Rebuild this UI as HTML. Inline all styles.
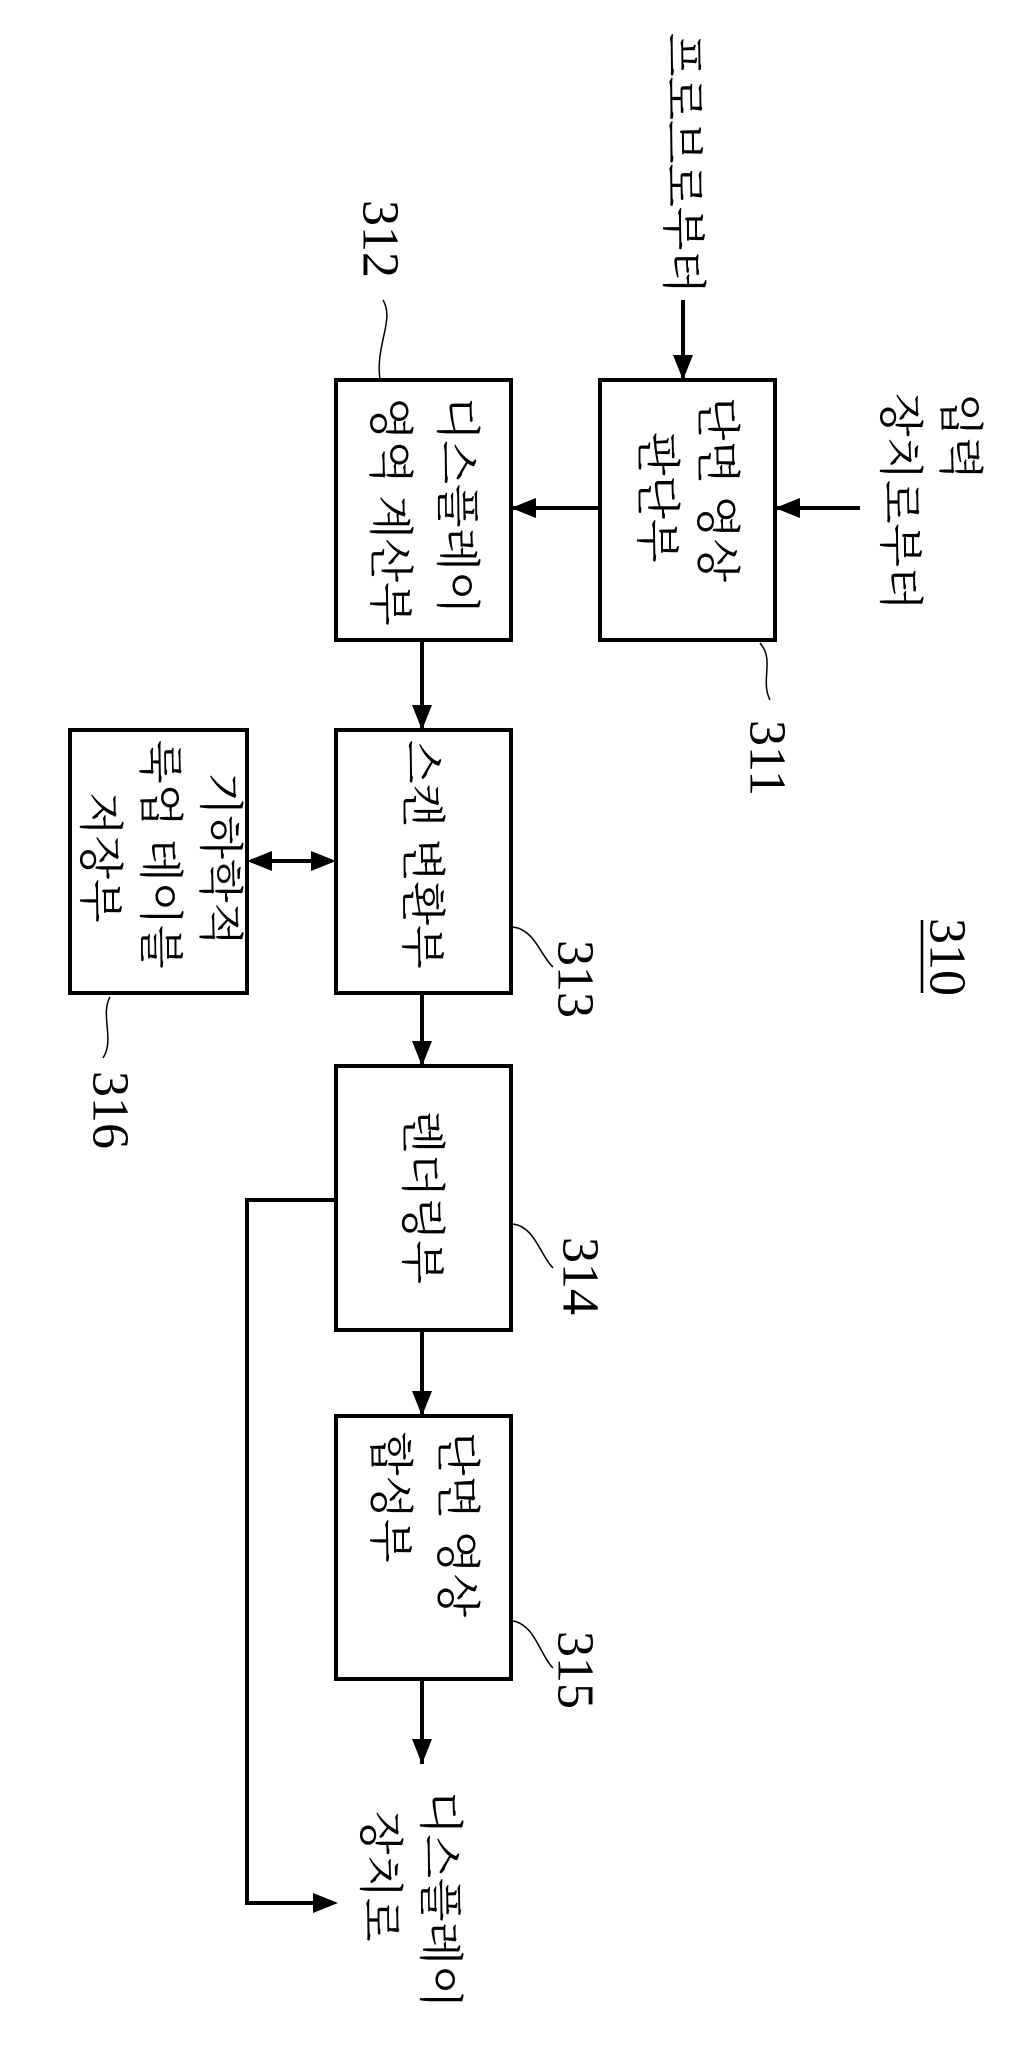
<!DOCTYPE html>
<html><head><meta charset="utf-8"><style>
html,body{margin:0;padding:0;background:#fff;}
svg{display:block;}
text{font-family:"Liberation Serif","Noto Serif CJK KR","Noto Serif CJK SC",serif;fill:#000;}
</style></head><body>
<svg width="1032" height="2062" viewBox="0 0 1032 2062" xmlns="http://www.w3.org/2000/svg">
<g fill="none" stroke="#000" stroke-width="4">
<rect x="600" y="380" width="175" height="260"/>
<rect x="336" y="380" width="175" height="260"/>
<rect x="336" y="730" width="175" height="263"/>
<rect x="70" y="730" width="177" height="263"/>
<rect x="336" y="1066" width="175" height="264"/>
<rect x="336" y="1416" width="175" height="263"/>
</g>
<g stroke="#000" stroke-width="4" fill="none">
<line x1="683" y1="300" x2="683" y2="378"/>
<line x1="860" y1="508" x2="777" y2="508"/>
<line x1="600" y1="508" x2="513" y2="508"/>
<line x1="422" y1="640" x2="422" y2="728"/>
<line x1="422" y1="993" x2="422" y2="1064"/>
<line x1="422" y1="1330" x2="422" y2="1414"/>
<line x1="422" y1="1679" x2="422" y2="1764"/>
<line x1="251" y1="861" x2="332" y2="861"/>
<polyline points="336,1200 247,1200 247,1903 320,1903"/>
</g>
<g fill="#000">
<path d="M673,355 L693,355 L683,380 z"/>
<path d="M800,498 L800,518 L775,508 z"/>
<path d="M536,498 L536,518 L511,508 z"/>
<path d="M412,705 L432,705 L422,730 z"/>
<path d="M412,1041 L432,1041 L422,1066 z"/>
<path d="M412,1391 L432,1391 L422,1416 z"/>
<path d="M412,1739 L432,1739 L422,1764 z"/>
<path d="M272,851 L272,871 L247,861 z"/>
<path d="M311,851 L311,871 L336,861 z"/>
<path d="M313,1893 L313,1913 L338,1903 z"/>
</g>
<g fill="none" stroke="#000" stroke-width="1.5">
<path d="M383,300 C395,320 375,345 380,380"/>
<path d="M760,643 C775,660 760,680 770,700"/>
<path d="M513,927 C535,930 540,955 553,967"/>
<path d="M513,1224 C535,1227 540,1255 553,1268"/>
<path d="M513,1621 C535,1625 540,1655 553,1668"/>
<path d="M110,997 C100,1015 115,1040 103,1058"/>
<line x1="922" y1="920" x2="922" y2="993" stroke-width="2.5"/>
</g>
<g font-size="45" dominant-baseline="central">
<text transform="translate(683,33) rotate(90)">프로브로부터</text>
<text transform="translate(960,393) rotate(90)">입력</text>
<text transform="translate(900,393) rotate(90)">장치로부터</text>
<text transform="translate(717,397) rotate(90)">단면 영상</text>
<text transform="translate(657,432) rotate(90)">판단부</text>
<text transform="translate(457,397) rotate(90)">디스플레이</text>
<text transform="translate(390,397) rotate(90)">영역 계산부</text>
<text transform="translate(422,740) rotate(90)">스캔 변환부</text>
<text transform="translate(220,772) rotate(90)">기하학적</text>
<text transform="translate(160,740) rotate(90)">룩업 테이블</text>
<text transform="translate(100,792) rotate(90)">저장부</text>
<text transform="translate(422,1110) rotate(90)">렌더링부</text>
<text transform="translate(457,1432) rotate(90)">단면 영상</text>
<text transform="translate(390,1432) rotate(90)">합성부</text>
<text transform="translate(440,1791) rotate(90)">디스플레이</text>
<text transform="translate(380,1811) rotate(90)">장치로</text>
</g>
<g font-size="52" dominant-baseline="central">
<text transform="translate(380,200) rotate(90)">312</text>
<text transform="translate(767,720) rotate(90)">311</text>
<text transform="translate(947,918) rotate(90)">310</text>
<text transform="translate(575,940) rotate(90)">313</text>
<text transform="translate(110,1071) rotate(90)">316</text>
<text transform="translate(580,1237) rotate(90)">314</text>
<text transform="translate(575,1631) rotate(90)">315</text>
</g>
</svg>
</body></html>
